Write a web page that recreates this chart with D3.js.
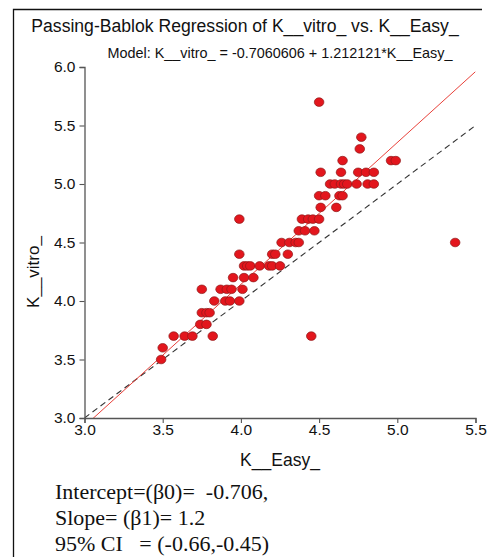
<!DOCTYPE html>
<html>
<head>
<meta charset="utf-8">
<script src="https://cdn.jsdelivr.net/npm/d3@7"></script>
<style>
  body { margin: 0; background: #fff; }
  svg { display: block; }
</style>
</head>
<body>
<div id="chart"></div>
<script>
// K__Easy_ (x) and K__vitro_ (y), paired values
const easyVals = [
  3.49,
  3.50,
  3.57, 3.64, 3.69, 3.82, 4.45,
  3.74, 3.78,
  3.75, 3.78, 3.80,
  3.83, 3.90, 3.93, 3.99,
  3.75, 3.87, 3.91, 3.94, 4.01,
  3.95, 4.02, 4.08,
  4.02, 4.04, 4.06, 4.12, 4.18, 4.20, 4.25,
  3.99, 4.20, 4.22, 4.30,
  4.26, 4.31, 4.35, 4.37, 5.37,
  4.37, 4.41, 4.47,
  3.99, 4.39, 4.43, 4.46, 4.50,
  4.51, 4.61,
  4.50, 4.54, 4.63, 4.65,
  4.57, 4.60, 4.64, 4.66, 4.68, 4.74, 4.81, 4.85,
  4.51, 4.64, 4.75, 4.80, 4.85,
  4.65, 4.96, 4.99,
  4.76,
  4.77,
  4.50
];
const vitroVals = [
  3.5,
  3.6,
  3.7, 3.7, 3.7, 3.7, 3.7,
  3.8, 3.8,
  3.9, 3.9, 3.9,
  4.0, 4.0, 4.0, 4.0,
  4.1, 4.1, 4.1, 4.1, 4.1,
  4.2, 4.2, 4.2,
  4.3, 4.3, 4.3, 4.3, 4.3, 4.3, 4.3,
  4.4, 4.4, 4.4, 4.4,
  4.5, 4.5, 4.5, 4.5, 4.5,
  4.6, 4.6, 4.6,
  4.7, 4.7, 4.7, 4.7, 4.7,
  4.8, 4.8,
  4.9, 4.9, 4.9, 4.9,
  5.0, 5.0, 5.0, 5.0, 5.0, 5.0, 5.0, 5.0,
  5.1, 5.1, 5.1, 5.1, 5.1,
  5.2, 5.2, 5.2,
  5.3,
  5.4,
  5.7
];
const xTicks = [3.0, 3.5, 4.0, 4.5, 5.0, 5.5];
const yTicks = [3.0, 3.5, 4.0, 4.5, 5.0, 5.5, 6.0];
const intercept = -0.7060606;
const slope = 1.212121;
const title = "Passing-Bablok Regression of K__vitro_ vs. K__Easy_";
const subtitle = "Model: K__vitro_ = -0.7060606 + 1.212121*K__Easy_";
const xLabel = "K__Easy_";
const yLabel = "K__vitro_";
const notes = ["Intercept=(\u03B20)=  -0.706,", "Slope= (\u03B21)= 1.2", "95% CI   = (-0.66,-0.45)"];

const width = 492, height = 557;
const sans = "'Liberation Sans', Arial, sans-serif";
const data = easyVals.map((e, i) => ({easy: e, vitro: vitroVals[i]}));

const svg = d3.select("#chart")
    .append("svg")
    .attr("width", width)
    .attr("height", height);

// outer frame (left and top edges only)
svg.append("path")
    .attr("d", "M13.5,557 L13.5,9.5 L482,9.5")
    .attr("fill", "none")
    .attr("stroke", "#111")
    .attr("stroke-width", 1.3);

const x = d3.scaleLinear().domain([3, 5.5]).range([84.5, 475.5]);
const y = d3.scaleLinear().domain([3, 6]).range([418, 67]);

svg.append("defs").append("clipPath")
    .attr("id", "plot-clip")
    .append("rect")
    .attr("x", x(3)).attr("y", y(6))
    .attr("width", x(5.5) - x(3))
    .attr("height", y(3) - y(6));

const plot = svg.append("g").attr("clip-path", "url(#plot-clip)");

// identity line
plot.append("line")
    .attr("x1", x(3)).attr("y1", y(3))
    .attr("x2", x(5.5)).attr("y2", y(5.5))
    .attr("stroke", "#333")
    .attr("stroke-width", 1.1)
    .attr("stroke-dasharray", "6,4");

// fitted line
plot.append("line")
    .attr("x1", x(3)).attr("y1", y(intercept + slope * 3))
    .attr("x2", x(5.5)).attr("y2", y(intercept + slope * 5.5))
    .attr("stroke", "#e8413a")
    .attr("stroke-width", 1);

svg.selectAll(".pt")
    .data(data)
    .enter()
    .append("ellipse")
    .attr("class", "pt")
    .attr("cx", d => x(d.easy))
    .attr("cy", d => y(d.vitro))
    .attr("rx", 4.8)
    .attr("ry", 4.3)
    .attr("fill", "#e3161d")
    .attr("stroke", "#8e1a1a")
    .attr("stroke-width", 0.7);

const xAxis = svg.append("g")
    .attr("transform", `translate(0, ${y(3)})`)
    .call(d3.axisBottom(x).tickValues(xTicks).tickFormat(d3.format(".1f")).tickSizeOuter(0).tickSize(5));
const yAxis = svg.append("g")
    .attr("transform", `translate(${x(3)}, 0)`)
    .call(d3.axisLeft(y).tickValues(yTicks).tickFormat(d3.format(".1f")).tickSizeOuter(0).tickSize(5));

[xAxis, yAxis].forEach(g => {
    g.select(".domain").attr("stroke", "#555").attr("stroke-width", 1.3);
    g.selectAll(".tick line").attr("stroke", "#555").attr("stroke-width", 1.1);
    g.selectAll(".tick text")
        .attr("fill", "#111")
        .style("font-family", sans)
        .style("font-size", "15.5px");
});
xAxis.selectAll(".tick text").attr("dy", "0.72em").attr("y", 6);
yAxis.selectAll(".tick text").attr("x", -9);

svg.append("text")
    .attr("x", 245)
    .attr("y", 32)
    .attr("text-anchor", "middle")
    .style("font-family", sans)
    .style("font-size", "17.6px")
    .attr("fill", "#111")
    .text(title);

svg.append("text")
    .attr("x", 280)
    .attr("y", 58)
    .attr("text-anchor", "middle")
    .style("font-family", sans)
    .style("font-size", "14.4px")
    .attr("fill", "#111")
    .text(subtitle);

svg.append("text")
    .attr("x", 280)
    .attr("y", 466)
    .attr("text-anchor", "middle")
    .style("font-family", sans)
    .style("font-size", "17.5px")
    .attr("fill", "#111")
    .text(xLabel);

svg.append("text")
    .attr("transform", "translate(39, 272) rotate(-90)")
    .attr("text-anchor", "middle")
    .style("font-family", sans)
    .style("font-size", "17px")
    .attr("fill", "#111")
    .text(yLabel);

svg.selectAll(".note")
    .data(notes)
    .enter()
    .append("text")
    .attr("class", "note")
    .attr("x", 55)
    .attr("y", (d, i) => 499 + i * 26)
    .style("font-family", "'Liberation Serif', 'DejaVu Serif', serif")
    .style("font-size", "22px")
    .attr("fill", "#111")
    .style("white-space", "pre")
    .text(d => d);
</script>
</body>
</html>
